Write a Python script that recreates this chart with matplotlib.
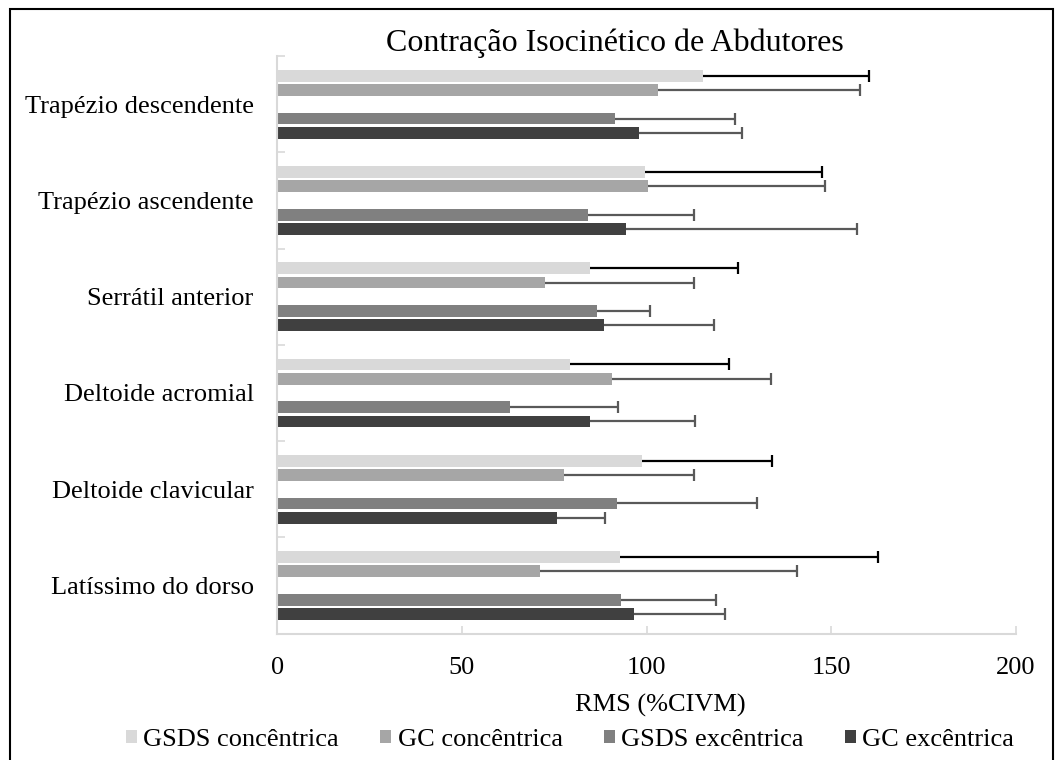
import matplotlib
matplotlib.use("Agg")
import matplotlib.pyplot as plt
from matplotlib.patches import Rectangle
import numpy as np

plt.rcParams['font.family'] = ['Liberation Serif', 'DejaVu Serif']

categories = ["Trapézio descendente", "Trapézio ascendente", "Serrátil anterior",
              "Deltoide acromial", "Deltoide clavicular", "Latíssimo do dorso"]
series = ["GSDS concêntrica", "GC concêntrica", "GSDS excêntrica", "GC excêntrica"]

gsds_conc = [115.3, 99.5, 84.7, 79.2, 98.8, 92.9]
gsds_conc_err = [44.9, 47.9, 39.9, 43.0, 35.2, 69.8]
gc_conc = [103.1, 100.3, 72.6, 90.5, 77.5, 71.0]
gc_conc_err = [54.7, 47.9, 40.1, 43.1, 35.4, 69.8]
gsds_exc = [91.3, 84.1, 86.5, 62.9, 92.0, 93.1]
gsds_exc_err = [32.5, 28.8, 14.5, 29.4, 37.9, 25.7]
gc_exc = [97.8, 94.3, 88.5, 84.7, 75.7, 96.6]
gc_exc_err = [27.9, 62.6, 29.6, 28.4, 13.0, 24.5]

values = [gsds_conc, gc_conc, gsds_exc, gc_exc]
errors = [gsds_conc_err, gc_conc_err, gsds_exc_err, gc_exc_err]
colors = ["#d9d9d9", "#a6a6a6", "#808080", "#404040"]
err_colors = ["#000000", "#595959", "#595959", "#595959"]
offsets = [-0.296, -0.148, 0.148, 0.296]

FS = 19

fig = plt.figure(figsize=(10.62, 7.6), dpi=100)
ax = fig.add_axes([277.3 / 1062, 1 - 633.5 / 760, (1016.1 - 277.3) / 1062, (633.5 - 56.2) / 760])

y = np.arange(len(categories))
for vals, errs, c, ec, off, name in zip(values, errors, colors, err_colors, offsets, series):
    vals = np.asarray(vals)
    errs = np.asarray(errs)
    yy = y + off
    ax.barh(yy, vals, height=0.122, color=c, edgecolor='none', label=name, zorder=2)
    ax.hlines(yy, vals, vals + errs, colors=ec, linewidth=1.6, zorder=3)
    ax.plot(vals + errs, yy, linestyle='none', marker='|', markersize=8.5,
            markeredgewidth=1.6, color=ec, zorder=3)

ax.set_xlim(0, 200)
ax.set_ylim(len(categories) - 0.5, -0.5)
ax.set_xticks([0, 50, 100, 150, 200])
ax.set_xticklabels(["0", "50", "100", "150", "200"], fontsize=FS)
ax.set_yticks(y)
ax.set_yticklabels(categories, fontsize=FS)
ax.set_yticks(np.arange(-0.5, len(categories), 1.0), minor=True)
ax.tick_params(axis='y', which='major', length=0, pad=17)
ax.tick_params(axis='y', which='minor', length=6, direction='in', color='#d9d9d9', width=1.2)
ax.tick_params(axis='x', which='major', length=6, direction='in', color='#d9d9d9', width=1.2, pad=17)

for s in ['top', 'right']:
    ax.spines[s].set_visible(False)
for s in ['left', 'bottom']:
    ax.spines[s].set_color('#d9d9d9')
    ax.spines[s].set_linewidth(1.5)

fig.text(660 / 1062, 1 - 705 / 760, "RMS (%CIVM)", fontsize=FS, ha='center', va='center')
fig.text(615 / 1062, 1 - 43 / 760, "Contração Isocinético de Abdutores", fontsize=23,
         ha='center', va='center')

handles, labels = ax.get_legend_handles_labels()
fig.legend(handles, labels, loc='center', bbox_to_anchor=(570 / 1062, 1 - 740 / 760),
           ncol=4, frameon=False, fontsize=FS, handlelength=0.42, handleheight=0.42,
           handletextpad=0.25, columnspacing=1.55, borderpad=0)

fig.patches.append(Rectangle((9.5 / 1062, -0.01), (1053 - 9.5) / 1062, 1.01 - 8.5 / 760,
                             transform=fig.transFigure, fill=False, edgecolor='black',
                             linewidth=1.5))

fig.savefig("out.png", dpi=100)
